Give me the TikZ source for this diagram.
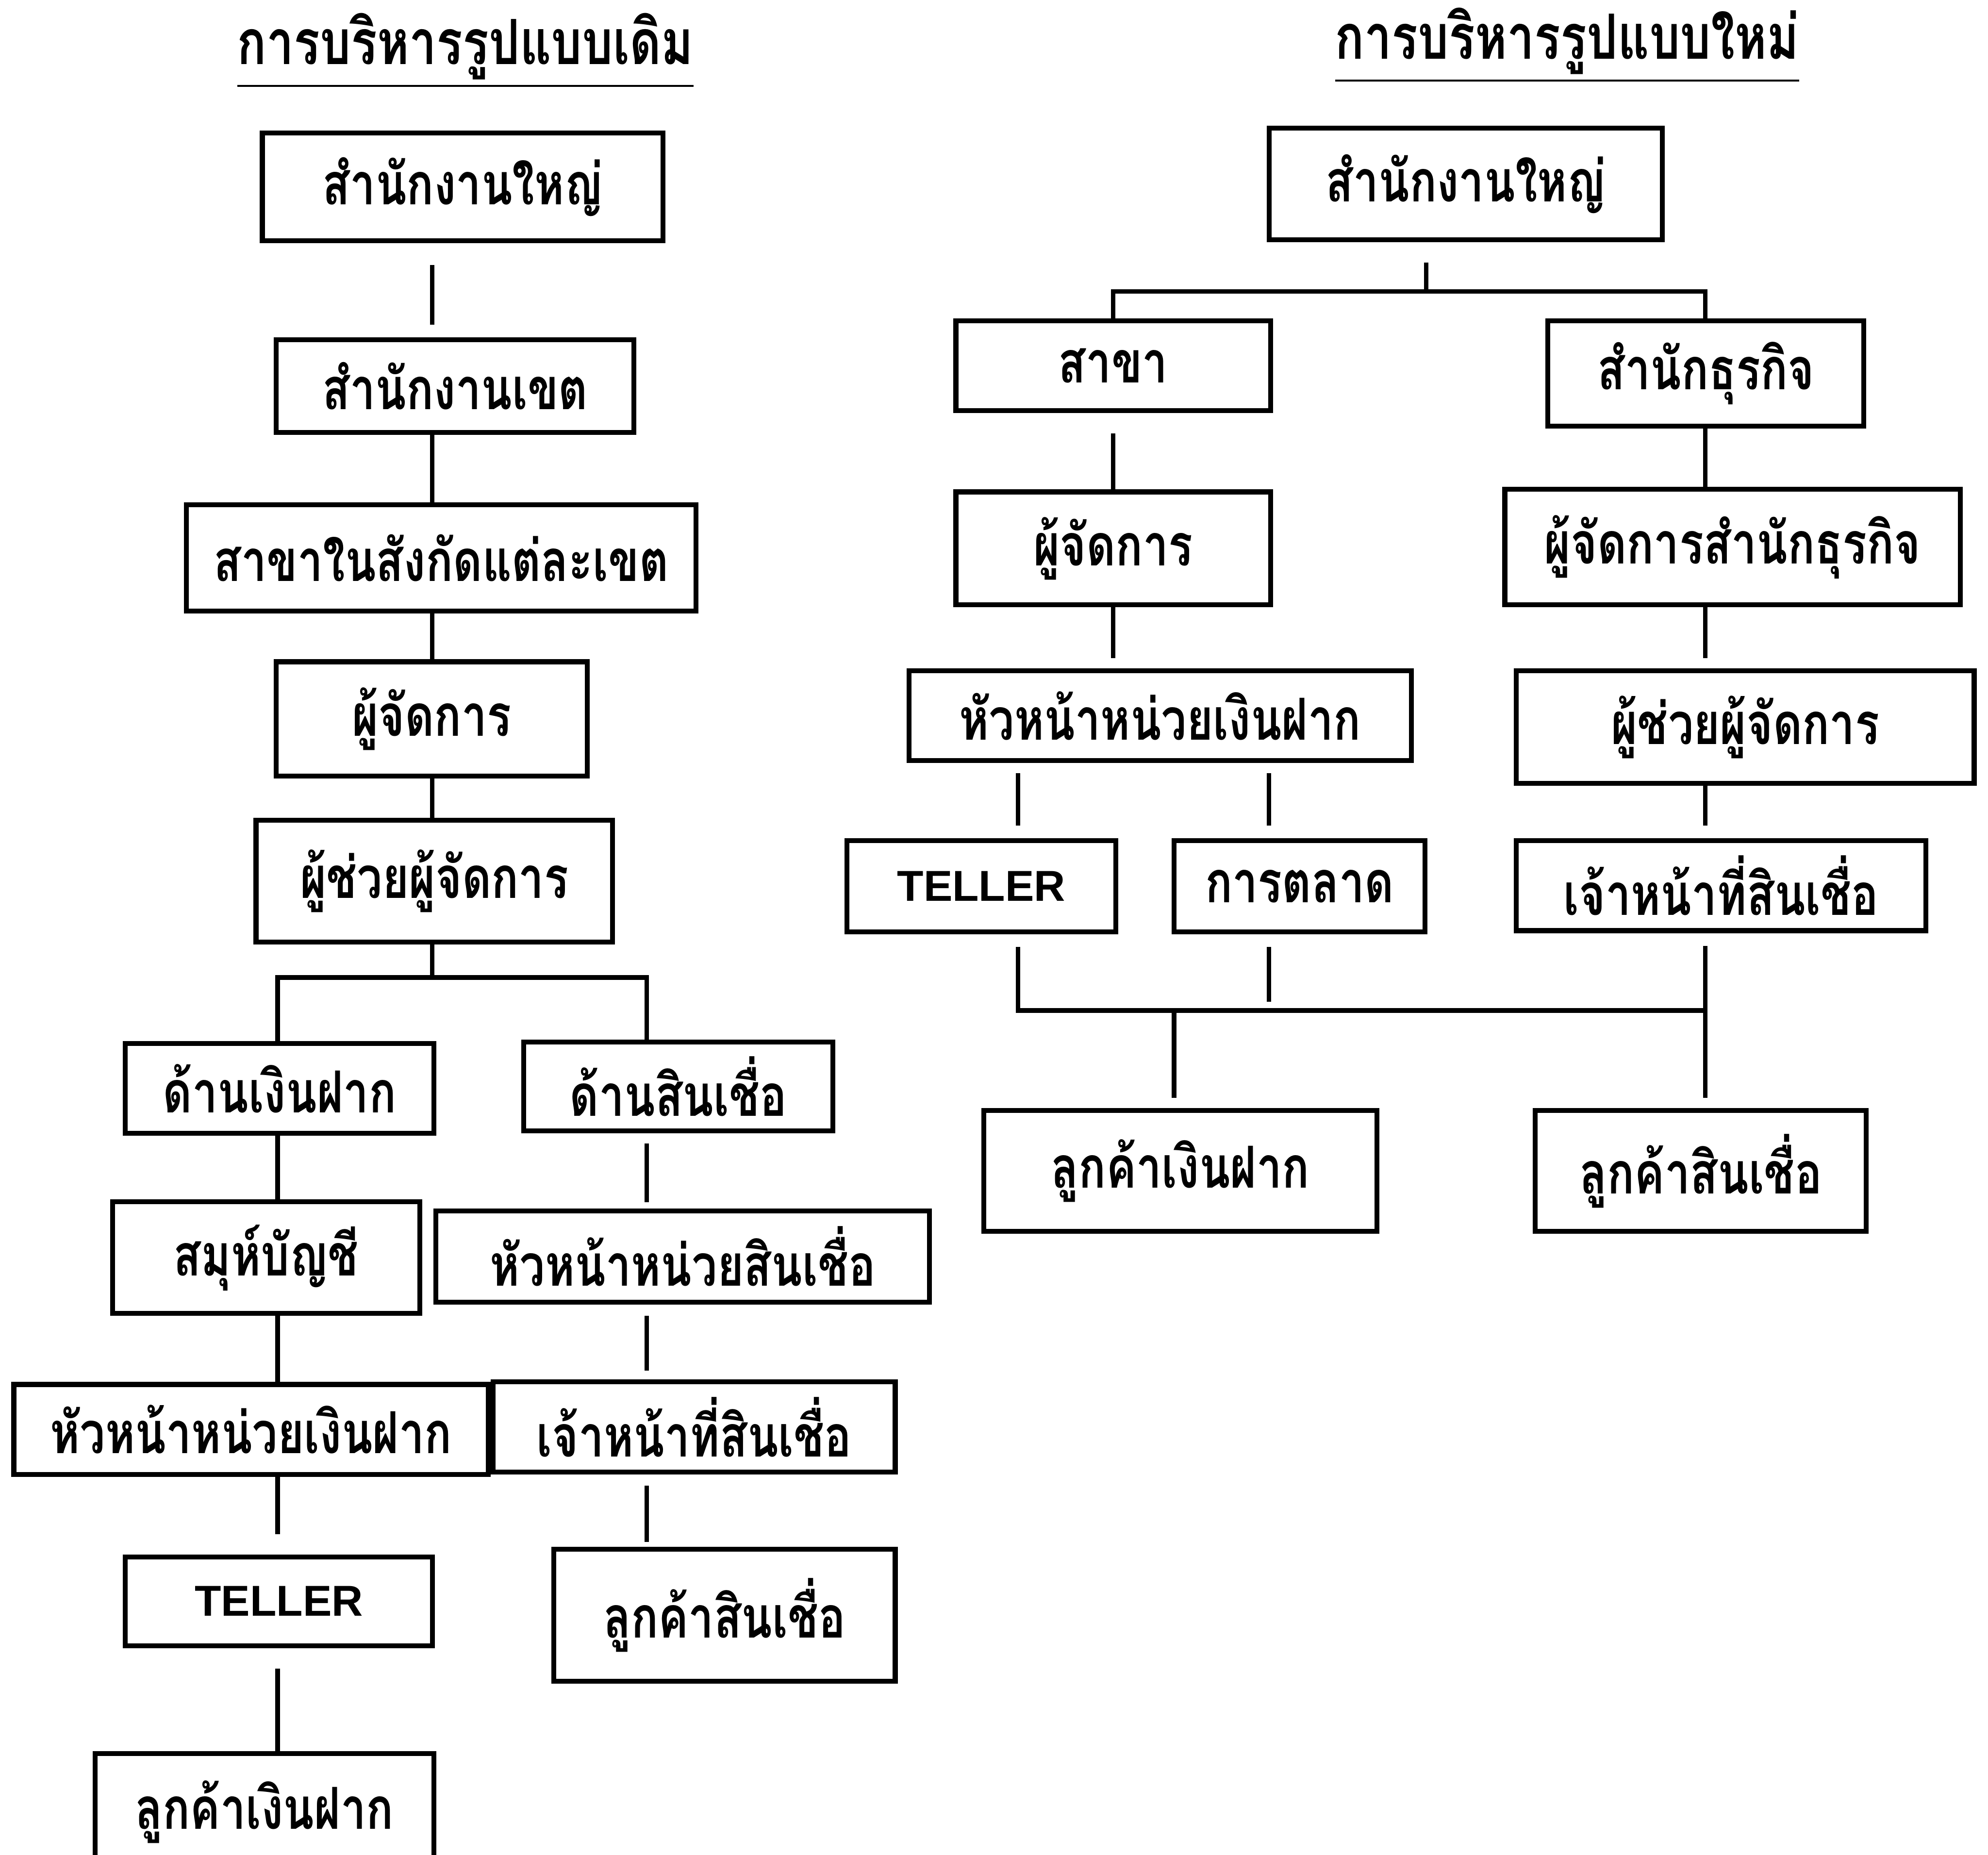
\documentclass[tikz,border=0pt]{standalone}
\usepackage{fontspec}
\newfontfamily\thaifont[Script=Thai,FakeStretch=0.78]{Loma}
\newfontfamily\latinfont{Liberation Sans}
\usetikzlibrary{calc}
\definecolor{inkblack}{RGB}{0,0,0}

\begin{document}
\begin{tikzpicture}[
  x=0.01cm, y=-0.01cm,
  box/.style={draw=inkblack, line width=1.1pt, inner sep=0pt,
              font=\thaifont\bfseries\fontsize{13}{15}\selectfont, text=inkblack},
  tellerbox/.style={box, font=\latinfont\bfseries\fontsize{9.7}{12}\selectfont},
  link/.style={line width=1pt, inkblack},
  headline/.style={font=\thaifont\bfseries\fontsize{14}{16}\selectfont, text=inkblack},
]

% page
\useasboundingbox (0,0) rectangle (1568,1463);

% titles
\node[headline] (titleOld) at (367,40) {\underline{การบริหารรูปแบบเดิม}};
\node[headline] (titleNew) at (1236,36) {\underline{การบริหารรูปแบบใหม่}};

% columns
\coordinate (colL) at (341,0);
\coordinate (colA) at (219,0);
\coordinate (colB) at (510,0);
\coordinate (colT) at (803,0);
\coordinate (colM) at (1001,0);
\coordinate (colC) at (926,0);
\coordinate (colS) at (1345,0);

% old structure
\node[box, minimum width=3.16cm, minimum height=0.85cm] (oldHQ) at (365,147.5) {สำนักงานใหญ่};
\node[box, minimum width=2.82cm, minimum height=0.73cm] (oldZone) at (359,304.5) {สำนักงานเขต};
\node[box, minimum width=4.02cm, minimum height=0.84cm] (oldBranch) at (348,440) {สาขาในสังกัดแต่ละเขต};
\node[box, minimum width=2.45cm, minimum height=0.90cm] (oldMgr) at (340.5,567) {ผู้จัดการ};
\node[box, minimum width=2.81cm, minimum height=0.96cm] (oldAsst) at (342.5,695) {ผู้ช่วยผู้จัดการ};
\node[box, minimum width=2.43cm, minimum height=0.71cm] (oldDep) at (220.5,858.5) {ด้านเงินฝาก};
\node[box, minimum width=2.44cm, minimum height=0.70cm] (oldLoan) at (535,857) {ด้านสินเชื่อ};
\node[box, minimum width=2.42cm, minimum height=0.88cm] (oldAcct) at (210,992) {สมุห์บัญชี};
\node[box, minimum width=3.89cm, minimum height=0.72cm] (oldLoanHead) at (538.5,991) {หัวหน้าหน่วยสินเชื่อ};
\node[box, minimum width=3.74cm, minimum height=0.71cm] (oldDepHead) at (198,1127.5) {หัวหน้าหน่วยเงินฝาก};
\node[box, minimum width=3.17cm, minimum height=0.71cm] (oldLoanOff) at (547.5,1125.5) {เจ้าหน้าที่สินเชื่อ};
\node[tellerbox, minimum width=2.42cm, minimum height=0.70cm] (oldTeller) at (220,1263) {TELLER};
\node[box, minimum width=2.69cm, minimum height=1.04cm] (oldLoanCust) at (571.5,1274) {ลูกค้าสินเชื่อ};
\node[box, minimum width=2.67cm, minimum height=0.92cm] (oldDepCust) at (208.5,1429) {ลูกค้าเงินฝาก};

% old links
\draw[link, shorten <=0.17cm, shorten >=0.10cm] (oldHQ.south -| colL) -- (oldZone.north -| colL);
\draw[link] (oldZone.south -| colL) -- (oldBranch.north -| colL);
\draw[link] (oldBranch.south -| colL) -- (oldMgr.north -| colL);
\draw[link] (oldMgr.south -| colL) -- (oldAsst.north -| colL);
\coordinate (forkL) at (341,771);
\draw[link] (oldAsst.south -| colL) -- (forkL);
\draw[link] (oldDep.north -| colA) |- (forkL) -| (oldLoan.north -| colB);
\draw[link] (oldDep.south -| colA) -- (oldAcct.north -| colA);
\draw[link] (oldAcct.south -| colA) -- (oldDepHead.north -| colA);
\draw[link, shorten >=0.16cm] (oldDepHead.south -| colA) -- (oldTeller.north -| colA);
\draw[link, shorten <=0.16cm] (oldTeller.south -| colA) -- (oldDepCust.north -| colA);
\draw[link, shorten <=0.08cm, shorten >=0.05cm] (oldLoan.south -| colB) -- (oldLoanHead.north -| colB);
\draw[link, shorten <=0.09cm, shorten >=0.07cm] (oldLoanHead.south -| colB) -- (oldLoanOff.north -| colB);
\draw[link, shorten <=0.09cm, shorten >=0.04cm] (oldLoanOff.south -| colB) -- (oldLoanCust.north -| colB);

% new structure
\node[box, minimum width=3.10cm, minimum height=0.88cm] (newHQ) at (1156,145) {สำนักงานใหญ่};
\node[box, minimum width=2.48cm, minimum height=0.71cm] (newBranch) at (878,288.5) {สาขา};
\node[box, minimum width=2.49cm, minimum height=0.83cm] (newBiz) at (1345.5,294.5) {สำนักธุรกิจ};
\node[box, minimum width=2.48cm, minimum height=0.89cm] (newMgr) at (878,432.5) {ผู้จัดการ};
\node[box, minimum width=3.59cm, minimum height=0.91cm] (newBizMgr) at (1366.5,431.5) {ผู้จัดการสำนักธุรกิจ};
\node[box, minimum width=3.96cm, minimum height=0.71cm] (newDepHead) at (915,564.5) {หัวหน้าหน่วยเงินฝาก};
\node[box, minimum width=3.61cm, minimum height=0.89cm] (newAsst) at (1376.5,573.5) {ผู้ช่วยผู้จัดการ};
\node[tellerbox, minimum width=2.12cm, minimum height=0.72cm] (newTeller) at (774,699) {TELLER};
\node[box, minimum width=1.98cm, minimum height=0.72cm] (newMkt) at (1025,699) {การตลาด};
\node[box, minimum width=3.23cm, minimum height=0.71cm] (newLoanOff) at (1357.5,698.5) {เจ้าหน้าที่สินเชื่อ};
\node[box, minimum width=3.10cm, minimum height=0.95cm] (newDepCust) at (931,923.5) {ลูกค้าเงินฝาก};
\node[box, minimum width=2.61cm, minimum height=0.95cm] (newLoanCust) at (1341.5,923.5) {ลูกค้าสินเชื่อ};

% new links
\coordinate (forkR) at (1125,230);
\draw[link, shorten <=0.16cm] (newHQ.south -| forkR) -- (forkR);
\draw[link] (newBranch.north) |- (forkR) -| (newBiz.north -| colS);
\draw[link, shorten <=0.16cm] (newBranch.south) -- (newMgr.north);
\draw[link] (newBiz.south -| colS) -- (newBizMgr.north -| colS);
\draw[link, shorten >=0.08cm] (newMgr.south) -- (newDepHead.north -| newMgr.south);
\draw[link, shorten >=0.08cm] (newBizMgr.south -| colS) -- (newAsst.north -| colS);
\draw[link, shorten <=0.08cm, shorten >=0.10cm] (newDepHead.south -| colT) -- (newTeller.north -| colT);
\draw[link, shorten <=0.08cm, shorten >=0.10cm] (newDepHead.south -| colM) -- (newMkt.north -| colM);
\draw[link, shorten >=0.10cm] (newAsst.south -| colS) -- (newLoanOff.north -| colS);
\coordinate (busR) at (1345,797);
\draw[link, shorten <=0.10cm] (newTeller.south -| colT) |- (busR);
\draw[link, shorten <=0.10cm, shorten >=0.07cm] (newMkt.south -| colM) -- (colM |- busR);
\draw[link, shorten <=0.10cm] (newLoanOff.south -| colS) -- (busR);
\draw[link, shorten >=0.08cm] (colC |- busR) -- (newDepCust.north -| colC);
\draw[link, shorten >=0.08cm] (busR) -- (newLoanCust.north -| colS);

\end{tikzpicture}
\end{document}
